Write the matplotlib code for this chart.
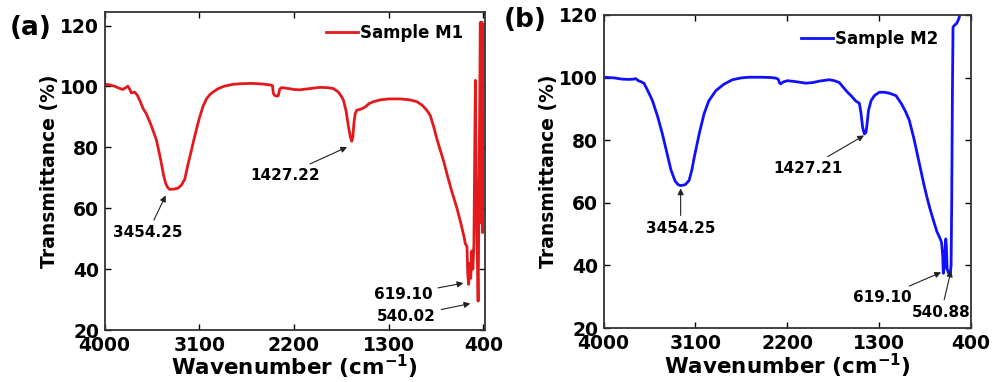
import matplotlib
matplotlib.use("Agg")
import matplotlib.pyplot as plt

plt.rcParams['font.family'] = ['DejaVu Sans']
plt.rcParams['font.weight'] = 'bold'
plt.rcParams['axes.labelweight'] = 'bold'
plt.rcParams['mathtext.fontset'] = 'dejavusans'
plt.rcParams['mathtext.default'] = 'bf'

# FTIR spectrum, sample M1
wn_m1 = [4000, 3950, 3900, 3860, 3826, 3800, 3779, 3760, 3746, 3714, 3690, 3660,
         3635, 3603, 3560, 3508, 3470, 3440, 3420, 3400, 3381, 3340, 3302, 3270,
         3238, 3210, 3185, 3159, 3130, 3100, 3063, 3030, 3000, 2968, 2920, 2860,
         2778, 2700, 2600, 2500, 2429, 2405, 2395, 2381, 2360, 2349, 2335, 2318,
         2250, 2200, 2143, 2050, 1952, 1880, 1825, 1780, 1750, 1730, 1705, 1683,
         1665, 1651, 1640, 1630, 1619, 1603, 1560, 1520, 1490, 1444, 1380, 1300,
         1190, 1100, 1032, 980, 940, 905, 870, 840, 800, 778, 740, 700, 651, 610,
         580, 571, 556, 548, 540, 530, 520, 510, 500, 490, 476, 465, 450, 440,
         429, 425, 420, 416, 412, 408, 404]
t_m1 = [100.8, 100.5, 100.0, 99.4, 99.0, 99.6, 100.1, 99.0, 97.9, 98.1, 97.2, 95.0,
        92.8, 91.0, 87.5, 82.5, 76.5, 71.0, 68.2, 66.8, 66.2, 66.3, 66.6, 67.6,
        69.5, 74.0, 77.5, 81.4, 85.5, 89.5, 93.6, 96.0, 97.3, 98.2, 99.3, 100.1,
        100.7, 100.9, 101.0, 100.8, 100.5, 100.3, 97.6, 97.0, 96.8, 97.0, 99.2, 99.6,
        99.3, 99.0, 98.9, 99.3, 99.7, 99.6, 99.3, 98.2, 96.8, 95.5, 92.0, 87.0,
        83.5, 82.0, 83.5, 88.0, 91.0, 92.2, 92.6, 93.3, 94.3, 95.0, 95.6, 95.9,
        95.9, 95.6, 95.0, 93.8, 92.3, 90.5, 86.5, 82.5, 78.0, 75.5, 70.5, 65.5, 60.0, 54.5,
        50.0, 48.3, 47.5, 38.0, 35.0, 42.0, 37.0, 46.0, 40.0, 48.0, 102.0, 60.0, 29.5, 70.0,
        121.0, 60.0, 121.0, 55.0, 121.0, 52.0, 120.0]

# FTIR spectrum, sample M2
wn_m2 = [4000, 3900, 3820, 3752, 3700, 3686, 3660, 3630, 3605, 3570, 3522, 3470,
         3424, 3380, 3340, 3300, 3270, 3245, 3200, 3163, 3135, 3115, 3098, 3060,
         3016, 2970, 2901, 2820, 2738, 2650, 2575, 2450, 2360, 2313, 2290, 2275,
         2264, 2240, 2198, 2120, 2018, 1950, 1880, 1789, 1740, 1691, 1650, 1610,
         1570, 1530, 1495, 1480, 1462, 1445, 1430, 1418, 1405, 1380, 1348, 1300,
         1250, 1200, 1135, 1080, 1040, 1005, 960, 930, 900, 860, 830, 802, 770,
         737, 700, 689, 678, 672, 662, 655, 648, 642, 635, 620, 605, 596, 590,
         583, 577, 560, 541, 520, 508, 490]
t_m2 = [100.1, 99.9, 99.5, 99.4, 99.5, 99.7, 99.0, 98.6, 98.2, 96.0, 92.7, 87.5,
        82.0, 76.0, 70.5, 67.0, 65.8, 65.5, 65.8, 67.1, 70.5, 74.0, 76.7, 82.5,
        88.4, 92.5, 95.8, 97.9, 99.3, 99.9, 100.1, 100.1, 100.0, 99.8, 99.5, 98.2,
        98.0, 98.6, 99.0, 98.7, 98.2, 98.4, 98.9, 99.3, 99.0, 98.4, 96.8, 95.3,
        94.0, 92.5, 91.8, 89.0, 84.0, 82.0, 82.5, 85.5, 89.5, 92.6, 94.2, 95.3,
        95.3, 95.0, 94.2, 91.5, 89.0, 86.3, 80.5, 76.0, 71.5, 65.5, 61.5, 58.0, 54.5,
        51.0, 48.3, 47.3, 43.0, 37.5, 39.5, 45.0, 48.5, 46.0, 39.0, 37.5, 37.2, 40.0, 60.0,
        95.0, 116.1, 116.8, 117.3, 118.8, 120.3, 122.0]

# peak labels: (text, arrow head, text centre)
peaks_m1 = [("3454.25", (3419, 64.2), (3590, 51.9)),
            ("1427.22", (1695, 80.1), (2286, 70.8)),
            ("619.10", (590, 35.4), (1162, 31.7)),
            ("540.02", (524, 28.7), (1133, 24.4))]
peaks_m2 = [("3454.25", (3245, 64.6), (3245, 51.8)),
            ("1427.21", (1449, 81.5), (2002, 71.0)),
            ("619.10", (694, 37.8), (1266, 29.8)),
            ("540.88", (596, 38.4), (694, 24.9))]

xticks = [4000, 3100, 2200, 1300, 400]
yticks = [20, 40, 60, 80, 100, 120]


def draw_panel(ax, wn, t, color, name, peaks, xlim, ylim, leg_anchor):
    ax.plot(wn, t, color=color, lw=2.0, label=name, solid_joinstyle='round')
    ax.set_xlim(*xlim)
    ax.set_ylim(*ylim)
    ax.set_xticks(xticks)
    ax.set_yticks(yticks)
    ax.tick_params(direction='in', top=True, right=True, length=4,
                   labelsize=13.5, pad=4, width=1)
    for s in ax.spines.values():
        s.set_linewidth(1.3)
        s.set_color('#333333')
    ax.set_xlabel('Wavenumber (cm$^{-1}$)', fontsize=15.5, labelpad=-1)
    ax.set_ylabel('Transmittance (%)', fontsize=13.5, labelpad=1)
    for txt, head, pos in peaks:
        ax.annotate(txt, xy=head, xytext=pos, ha='center', va='center',
                    fontsize=11,
                    arrowprops=dict(arrowstyle='-|>', color='#222222', lw=0.8,
                                    mutation_scale=9, shrinkA=2, shrinkB=0))
    ax.legend(loc='upper right', bbox_to_anchor=leg_anchor, frameon=False,
              fontsize=12, handlelength=1.9, handletextpad=0.15,
              borderaxespad=0)


fig = plt.figure(figsize=(9.96, 3.82), dpi=100)
ax1 = fig.add_axes([0.105, 0.136, 0.382, 0.833])
ax2 = fig.add_axes([0.606, 0.141, 0.369, 0.820])

draw_panel(ax1, wn_m1, t_m1, '#e3191c', 'Sample M1', peaks_m1,
           (4000, 384), (20, 124.5), (0.96, 0.984))
draw_panel(ax2, wn_m2, t_m2, '#1010ff', 'Sample M2', peaks_m2,
           (4000, 400), (20, 120), (0.929, 0.974))

fig.text(0.010, 0.927, '(a)', fontsize=19, ha='left', va='center')
fig.text(0.506, 0.948, '(b)', fontsize=19, ha='left', va='center')

fig.savefig('out.png', dpi=100)
